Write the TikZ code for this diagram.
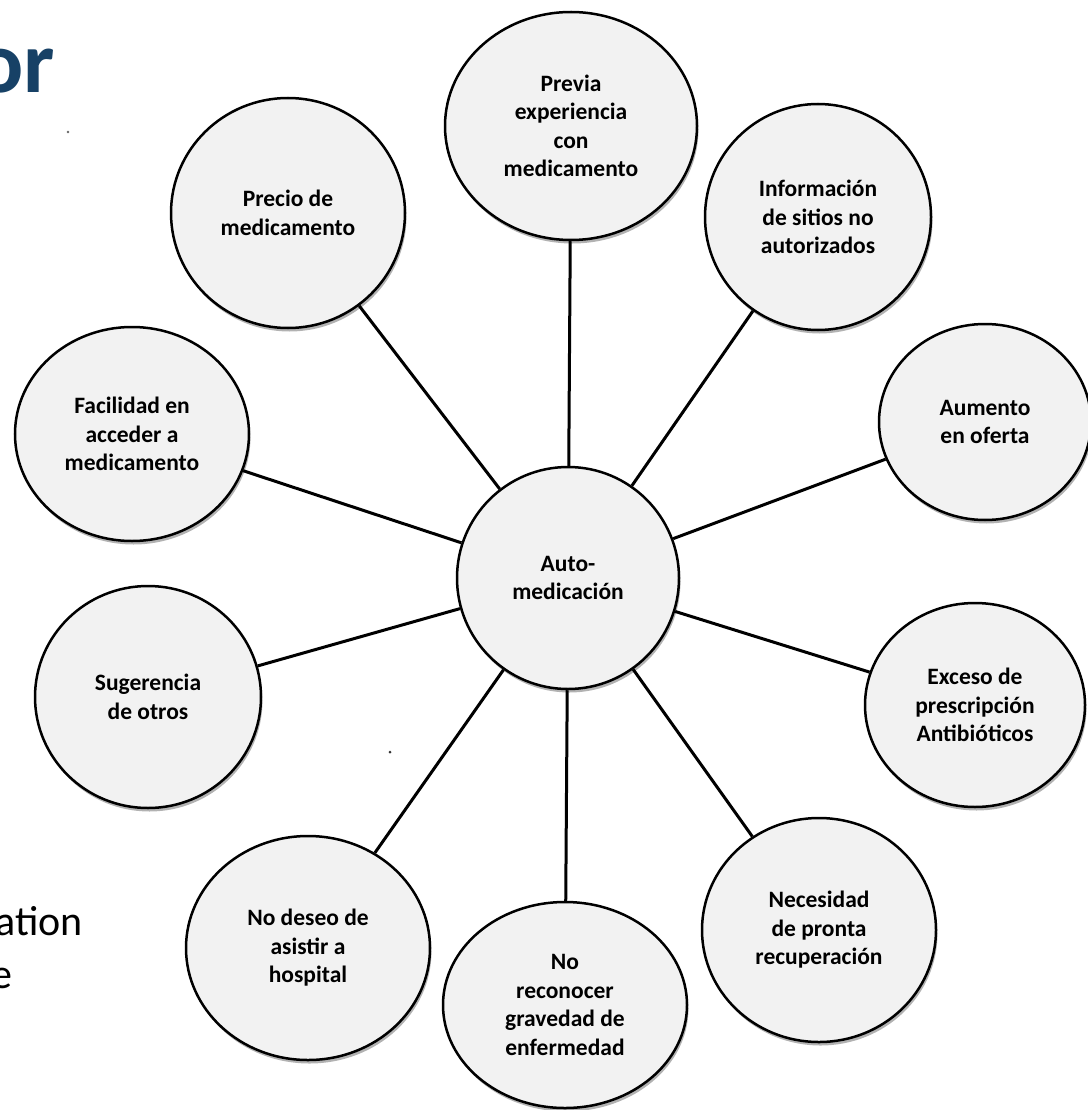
\documentclass[tikz,border=0pt]{standalone}
\usepackage{fontspec}
\setmainfont{Carlito}
\usetikzlibrary{shapes.geometric,shadows}
\definecolor{titleblue}{RGB}{23,65,102}
\definecolor{bubblefill}{RGB}{242,242,242}
\begin{document}
\begin{tikzpicture}[x=1pt,y=-1pt,
  bubble/.style={ellipse, draw=black, line width=2.5pt, fill=bubblefill, inner sep=0pt,
    align=center, font=\fontsize{23.5}{28.5}\selectfont\bfseries,
    drop shadow={shadow xshift=1.5pt, shadow yshift=-3.5pt, opacity=0.3, fill=black}},
  spoke/.style={line width=3pt, draw=black},
  sidetext/.style={anchor=base east, inner sep=0pt}]
\useasboundingbox (0,0) rectangle (1087,1110);
\fill[white] (0,0) rectangle (1087,1110);

\node[bubble, minimum width=222pt, minimum height=222pt] (c) at (568,578) {Auto-\\medicación};
\node[bubble, minimum width=252pt, minimum height=228pt] (p1) at (571,126) {Previa\\experiencia\\con\\medicamento};
\node[bubble, minimum width=234pt, minimum height=230pt] (p2) at (288,213) {Precio de\\medicamento};
\node[bubble, minimum width=226pt, minimum height=226pt] (p3) at (818,217) {Información\\de sitios no\\autorizados};
\node[bubble, minimum width=234pt, minimum height=214pt] (p4) at (132,434) {Facilidad en\\acceder a\\medicamento};
\node[bubble, minimum width=212pt, minimum height=196pt] (p5) at (985,422) {Aumento\\en oferta};
\node[bubble, minimum width=220pt, minimum height=204pt] (p6) at (975,705) {Exceso de\\prescripción\\Antibióticos};
\node[bubble, minimum width=226pt, minimum height=222pt] (p7) at (148,697) {Sugerencia\\de otros};
\node[bubble, minimum width=244pt, minimum height=224pt] (p8) at (308,948) {No deseo de\\asistir a\\hospital};
\node[bubble, minimum width=244pt, minimum height=206pt] (p9) at (565,1005) {No\\reconocer\\gravedad de\\enfermedad};
\node[bubble, minimum width=234pt, minimum height=224pt] (p10) at (819,930) {Necesidad\\de pronta\\recuperación};

\foreach \n in {p1,p2,p3,p4,p5,p6,p7,p8,p9,p10}
  \draw[spoke] (c) -- (\n);

\node[sidetext, text=titleblue, font=\fontsize{88}{88}\selectfont\bfseries] (t1) at (55,93) {or};
\node[sidetext, font=\fontsize{42}{42}\selectfont] (t2) at (83,935) {ation};
\node[sidetext, font=\fontsize{42}{42}\selectfont] (t3) at (13,988) {e};

\fill[black!60] (68,132) circle (1.3pt);
\fill[black!80] (390,752) circle (1.5pt);
\end{tikzpicture}
\end{document}
